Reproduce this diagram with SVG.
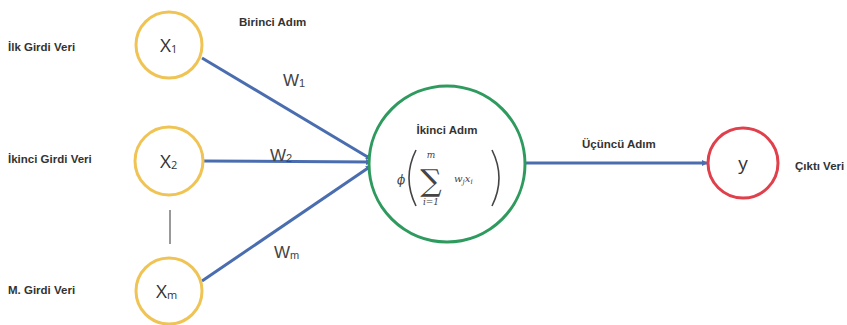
<svg xmlns="http://www.w3.org/2000/svg" width="847" height="325" viewBox="0 0 847 325">
<defs>
<style>
.lbl{font-family:"Liberation Sans",Arial,sans-serif;font-weight:bold;font-size:11.5px;fill:#333}
.nd{font-family:"Open Sans","Liberation Sans",sans-serif;font-size:19px;fill:#333}
.sub{font-size:11px}
.w{font-family:"Liberation Sans",Arial,sans-serif;font-size:17px;fill:#444}
.in{fill:#fff;stroke:#f0c454;stroke-width:3}
.conn{stroke:#4a6db0;stroke-width:3;fill:none;marker-end:url(#ah)}
.math{font-family:"DejaVu Serif","Liberation Serif",serif;fill:#444}
</style>
<marker id="ah" markerWidth="6" markerHeight="6" refX="5" refY="3" orient="auto" markerUnits="userSpaceOnUse">
<path d="M0,0 L6,3 L0,6 z" fill="#4a6db0"/>
</marker>
</defs>
<rect width="847" height="325" fill="#fff"/>
<g id="connectors">
<line class="conn" x1="202" y1="58" x2="371" y2="159"/>
<line class="conn" x1="204" y1="161" x2="371" y2="162"/>
<line class="conn" x1="202" y1="281" x2="371" y2="166"/>
<line class="conn" x1="526" y1="163" x2="707" y2="163"/>
<line x1="170" y1="210" x2="170" y2="244" stroke="#777" stroke-width="1.5"/>
</g>
<g id="x1">
<circle class="in" cx="169" cy="45" r="33"/>
<text class="nd" x="160" y="52">X<tspan class="sub" dy="1">1</tspan></text>
</g>
<g id="x2">
<circle class="in" cx="169" cy="161" r="34"/>
<text class="nd" x="160" y="168">X<tspan class="sub" dy="1">2</tspan></text>
</g>
<g id="xm">
<circle class="in" cx="169" cy="291" r="33"/>
<text class="nd" x="156" y="298">X<tspan class="sub" dy="1">m</tspan></text>
</g>
<g id="sum">
<circle cx="447" cy="164" r="78" fill="#fff" stroke="#2e9a5e" stroke-width="3"/>
<text class="lbl" x="447" y="134" text-anchor="middle" font-size="10">İkinci Adım</text>
<text class="math" x="397" y="184" font-size="12" font-style="italic">ϕ</text>
<path d="M416,150 Q402,178 416,206" fill="none" stroke="#444" stroke-width="1.6"/>
<path d="M492,150 Q506,178 492,206" fill="none" stroke="#444" stroke-width="1.6"/>
<text class="math" x="431" y="191" font-size="30" text-anchor="middle">∑</text>
<text class="math" x="431" y="158" font-size="9" font-style="italic" text-anchor="middle">m</text>
<text class="math" x="431" y="205" font-size="9" font-style="italic" text-anchor="middle">i=1</text>
<text class="math" x="454" y="182" font-size="10" font-style="italic">w<tspan font-size="7" dy="2">j</tspan><tspan dy="-2">x</tspan><tspan font-size="7" dy="2">i</tspan></text>
</g>
<g id="y">
<circle cx="743" cy="163" r="35" fill="#fff" stroke="#e0404c" stroke-width="3"/>
<text class="nd" x="743" y="170" text-anchor="middle">y</text>
</g>
<g id="labels">
<text class="lbl" x="8" y="51">İlk Girdi Veri</text>
<text class="lbl" x="8" y="163">İkinci Girdi Veri</text>
<text class="lbl" x="8" y="294">M. Girdi Veri</text>
<text class="lbl" x="239" y="26">Birinci Adım</text>
<text class="lbl" x="582" y="148">Üçüncü Adım</text>
<text class="lbl" x="795" y="170">Çıktı Veri</text>
<text class="w" x="283" y="86">W<tspan font-size="11" dy="1">1</tspan></text>
<text class="w" x="270" y="161">W<tspan font-size="11" dy="1">2</tspan></text>
<text class="w" x="274" y="258">W<tspan font-size="11" dy="1">m</tspan></text>
</g>
</svg>
